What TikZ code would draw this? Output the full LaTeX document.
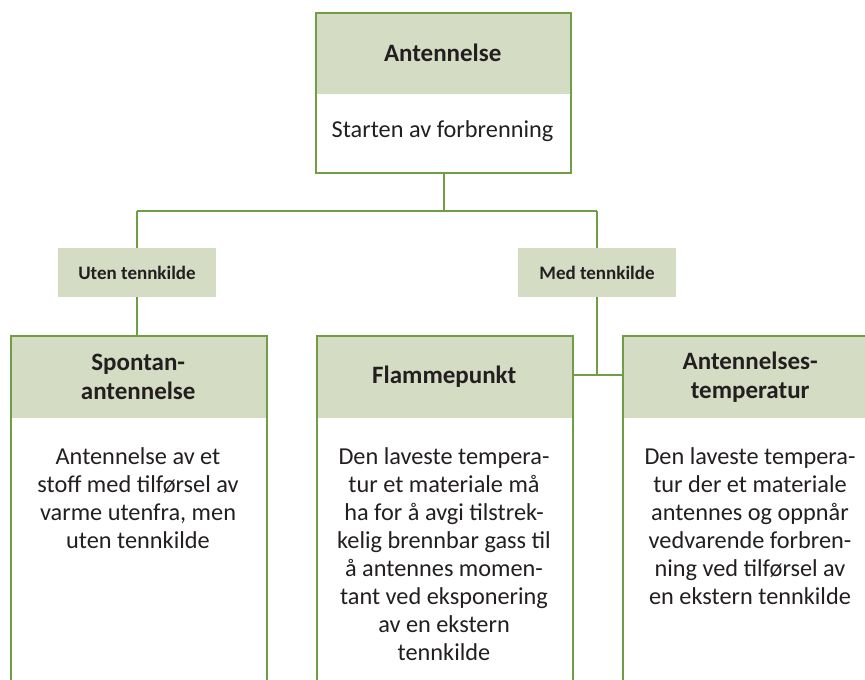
\documentclass[tikz,border=0pt]{standalone}
\usepackage{fontspec}
\setmainfont{Carlito}
\definecolor{grn}{HTML}{6F9E45}
\definecolor{pale}{HTML}{D5DCC4}
\definecolor{ink}{HTML}{231F20}
\tikzset{
  hdr/.style={fill=pale, inner sep=0pt, anchor=north west, align=center, text=ink,
    font=\fontsize{25}{29}\selectfont\bfseries},
  outline/.style={draw=grn, line width=2pt, inner sep=0pt, anchor=north west},
  bodytxt/.style={inner sep=0pt, anchor=north, align=center, text=ink,
    font=\fontsize{24.3}{28}\selectfont},
  lab/.style={fill=pale, inner sep=0pt, minimum width=158pt, minimum height=49pt, text=ink,
    font=\fontsize{19}{22}\selectfont\bfseries},
  conn/.style={draw=grn, line width=2pt}
}
\begin{document}
\begin{tikzpicture}[x=1pt,y=-1pt]
\useasboundingbox (0,0) rectangle (865,680);
\clip (0,0) rectangle (865,680);
% top box
\node[hdr, minimum width=255pt, minimum height=82pt] (toph) at (315,12) {Antennelse};
\node[outline, minimum width=255pt, minimum height=160pt] (top) at (315,12) {};
\node[bodytxt, anchor=center] (topt) at (442.5,131) {Starten av forbrenning};
% labels
\node[lab] (uten) at (137,272.5) {Uten tennkilde};
\node[lab] (med) at (597,272.5) {Med tennkilde};
% lower boxes
\node[hdr, minimum width=256pt, minimum height=83pt] (sph) at (10,335) {Spontan-\\antennelse};
\node[outline, minimum width=256pt, minimum height=400pt] (sp) at (10,335) {};
\node[hdr, minimum width=256pt, minimum height=83pt] (flh) at (316,335) {Flammepunkt};
\node[outline, minimum width=256pt, minimum height=400pt] (fl) at (316,335) {};
\node[hdr, minimum width=256pt, minimum height=83pt] (teh) at (622,335) {Antennelses-\\temperatur};
\node[outline, minimum width=256pt, minimum height=400pt] (te) at (622,335) {};
% body texts
\node[bodytxt] (spt) at (138,447) {Antennelse av et\\stoff med tilførsel av\\varme utenfra, men\\uten tennkilde};
\node[bodytxt] (flt) at (444,447) {Den laveste tempera-\\tur et materiale må\\ha for å avgi tilstrek-\\kelig brennbar gass til\\å antennes momen-\\tant ved eksponering\\av en ekstern\\tennkilde};
\node[bodytxt] (tet) at (750,447) {Den laveste tempera-\\tur der et materiale\\antennes og oppnår\\vedvarende forbren-\\ning ved tilførsel av\\en ekstern tennkilde};
% connectors
\coordinate (jl) at (137,211);
\coordinate (jr) at (597,211);
\coordinate (jm) at (597,375);
\draw[conn] (top.south) -- (top.south |- jl);
\draw[conn] (jl) -- (jr);
\draw[conn] (jl) -- (uten.north);
\draw[conn] (jr) -- (med.north);
\draw[conn] (uten.south) -- (uten.south |- sp.north);
\draw[conn] (med.south) -- (jm);
\draw[conn] (fl.east |- jm) -- (te.west |- jm);
\end{tikzpicture}
\end{document}
